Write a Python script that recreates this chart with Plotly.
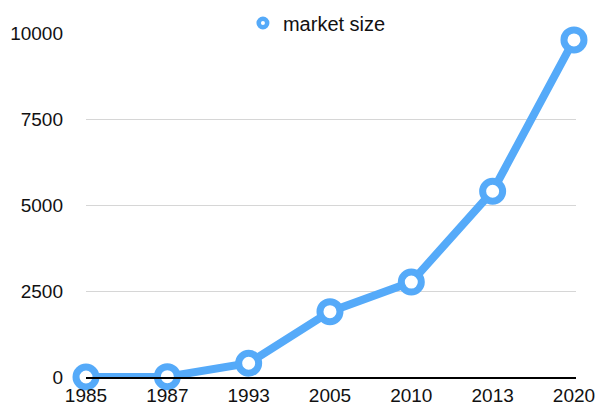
import plotly.graph_objects as go

years = ["1985", "1987", "1993", "2005", "2010", "2013", "2020"]
market_size = [0, 10, 400, 1900, 2760, 5400, 9800]
y_ticks = [0, 2500, 5000, 7500, 10000]
series_name = "market size"

blue = "#55aaf9"
font = dict(family="Liberation Sans, Arial, sans-serif", size=19, color="#111111")
legend_font = dict(family="Liberation Sans, Arial, sans-serif", size=20, color="#111111")

fig = go.Figure()
fig.add_trace(go.Scatter(
    x=years, y=market_size, mode="lines+markers", name=series_name,
    showlegend=False, cliponaxis=False,
    line=dict(color=blue, width=8),
    marker=dict(size=20, color="white", line=dict(color=blue, width=7)),
))
# legend-only entry (marker symbol only, as in the reference)
fig.add_trace(go.Scatter(
    x=[None], y=[None], mode="markers", name=series_name,
    marker=dict(size=8.5, color="white", line=dict(color=blue, width=4.5)),
))

fig.update_layout(
    width=598, height=403,
    margin=dict(l=86, r=22, t=33, b=26, autoexpand=False),
    paper_bgcolor="white", plot_bgcolor="white",
    font=font,
    showlegend=True,
    legend=dict(orientation="h", xref="container", yref="container",
                x=0.530, xanchor="center", y=1 - 23 / 403, yanchor="middle",
                font=legend_font, bgcolor="rgba(0,0,0,0)", itemwidth=30),
    xaxis=dict(type="category", range=[0, 6.025], showgrid=False, zeroline=False,
               showline=True, linecolor="black", linewidth=2, automargin=False,
               ticks="", tickfont=font, ticklabelstandoff=0, fixedrange=True),
    yaxis=dict(range=[0, 10000], tickvals=y_ticks, ticktext=[str(v) for v in y_ticks],
               showgrid=True, gridcolor="#d6d6d6", gridwidth=1, automargin=False,
               zeroline=False, showline=False, ticks="", tickfont=font,
               ticklabelstandoff=22, fixedrange=True),
)

fig.write_html("out.html",
               config={"displayModeBar": False},
               post_script="document.body.style.margin='0';document.body.style.overflow='hidden';")
